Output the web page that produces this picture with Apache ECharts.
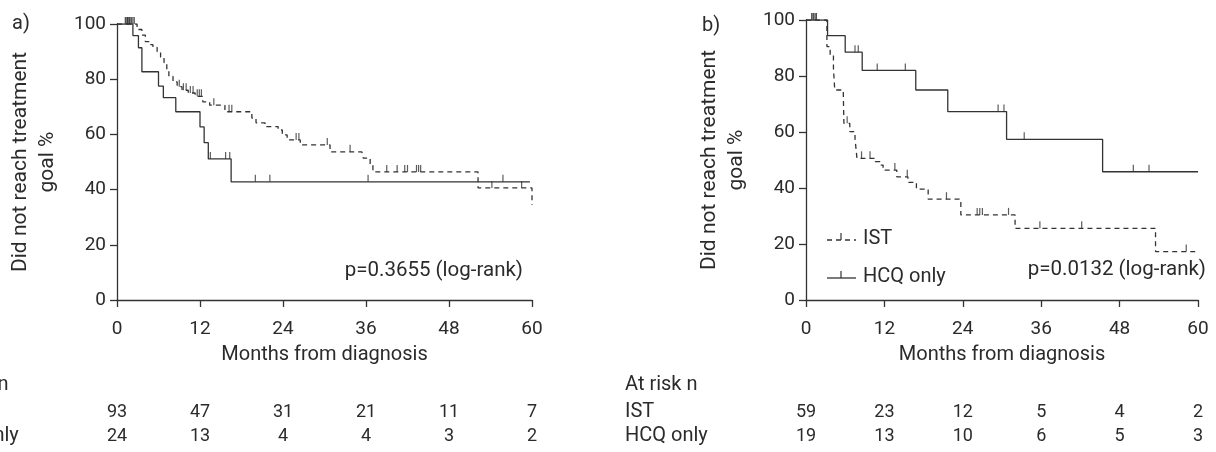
<!DOCTYPE html>
<html><head><meta charset="utf-8">
<script src="https://cdn.jsdelivr.net/npm/echarts@6/dist/echarts.min.js"></script>
<style>html,body{margin:0;padding:0;background:#fff}#c{width:1216px;height:452px}</style>
</head><body><div id="c"></div>
<script>
// ---------- data ----------
const monthTicks = [0, 12, 24, 36, 48, 60];
const pctTicks = [0, 20, 40, 60, 80, 100];
const groupNames = ['IST', 'HCQ only'];

// Panel a
const istA_t = [0, 2.9, 3.6, 4.1, 4.8, 5.2, 5.8, 6.3, 6.8, 7.2, 7.5, 8.1, 8.7, 9.4, 10.3, 11.3, 12.4, 13.4, 15.6, 19.5, 20.1, 21.4, 23.3, 23.9, 24.6, 26.5, 30.8, 35.4, 35.6, 36.6, 37.0, 37.4, 52.2, 60];
const istA_v = [100, 98, 96, 93.6, 92.5, 91.5, 90, 88, 86, 83, 81, 79, 77.3, 76, 75, 73.8, 71.8, 70.6, 68.2, 65.9, 64.2, 62.8, 61.6, 59.8, 58, 56.2, 53.7, 53.2, 51.4, 48.9, 47.2, 46.4, 40.6, 34.4];
const istA_cens = [1.3, 1.5, 1.7, 1.9, 2.1, 2.3, 2.5, 9.0, 9.6, 10.0, 10.6, 11.0, 11.6, 11.9, 12.2, 14.0, 16.2, 16.6, 25.9, 26.3, 30.4, 33.7, 39.0, 40.5, 41.6, 42.0, 43.3, 43.6, 43.9, 54.2, 58.5];
const hcqA_t = [0, 2.3, 3.1, 3.6, 6.0, 6.7, 8.5, 12.0, 12.6, 13.2, 16.5, 59.7];
const hcqA_v = [100, 95.8, 91.4, 82.7, 77.5, 73.3, 68.2, 62.7, 57, 51.1, 42.8, 42.8];
const hcqA_cens = [1.2, 1.5, 1.8, 13.5, 15.7, 16.3, 20.0, 22.1, 36.3, 55.8];
const riskA_IST = [93, 47, 31, 21, 11, 7];
const riskA_HCQ = [24, 13, 4, 4, 3, 2];
const pA = 'p=0.3655 (log-rank)';

// Panel b
const istB_t = [0, 3.2, 3.7, 4.2, 4.4, 5.7, 5.8, 6.7, 7.5, 7.8, 10.6, 11.3, 11.8, 13.9, 15.6, 16.9, 18.7, 23.7, 32.0, 53.5, 60];
const istB_v = [100, 90.5, 87.5, 82.7, 75, 74.4, 63.1, 60.1, 57.7, 50.6, 49.4, 48.2, 46.4, 44, 42, 39.6, 36, 30.4, 25.6, 17.3, 17.3];
const istB_cens = [0.9, 1.2, 1.5, 6.3, 8.5, 9.8, 13.6, 15.5, 21.5, 26.2, 26.6, 27.0, 31.0, 35.8, 42.2, 58.2];
const hcqB_t = [0, 3.3, 6.0, 8.6, 16.8, 21.7, 30.7, 45.4, 60];
const hcqB_v = [100, 94.4, 88.5, 82, 75, 67.3, 57.4, 45.8, 45.8];
const hcqB_cens = [0.9, 1.2, 1.6, 7.5, 8.0, 10.9, 15.2, 29.4, 30.3, 33.4, 50.1, 52.5];
const riskB_IST = [59, 23, 12, 5, 4, 2];
const riskB_HCQ = [19, 13, 10, 6, 5, 3];
const pB = 'p=0.0132 (log-rank)';

// ---------- helpers ----------
const FONT = 'Roboto, "Open Sans", sans-serif';
const TXT = '#2b2b2b';
const LINE = '#333';
const FS_NUM = 19;   // tick labels
const FS_WORD = 20;  // words
const FS_TAB = 18;   // risk-table numbers
function pairs(ts, vs) { return ts.map((t, i) => [t, vs[i]]); }
function valAt(ts, vs, t) { let v = vs[0]; for (let i = 0; i < ts.length; i++) if (ts[i] <= t) v = vs[i]; return v; }
function cens(ts, vs, cs) { return cs.map(c => [c, valAt(ts, vs, c)]); }

function xAxis(idx) {
  return {
    gridIndex: idx, type: 'value', min: 0, max: 60, interval: 12,
    name: 'Months from diagnosis', nameLocation: 'middle', nameGap: 45,
    nameTextStyle: { fontFamily: FONT, fontSize: FS_WORD, color: TXT },
    axisLine: { show: true, lineStyle: { color: LINE, width: 1.3 } },
    axisTick: { show: true, length: 7, lineStyle: { color: LINE, width: 1.3 } },
    axisLabel: { margin: 20, fontFamily: FONT, fontSize: FS_NUM, color: TXT },
    splitLine: { show: false }
  };
}
function yAxis(idx) {
  return {
    gridIndex: idx, type: 'value', min: 0, max: 100, interval: 20,
    name: 'Did not reach treatment\ngoal %', nameLocation: 'middle', nameRotate: 90, nameGap: 56,
    nameTextStyle: { fontFamily: FONT, fontSize: 21, color: TXT, lineHeight: 27, align: 'center' },
    axisLine: { show: true, lineStyle: { color: LINE, width: 1.3 } },
    axisTick: { show: true, length: 7, lineStyle: { color: LINE, width: 1.3 } },
    axisLabel: { margin: 11, fontFamily: FONT, fontSize: FS_NUM, color: TXT },
    splitLine: { show: false }
  };
}
function curve(idx, ts, vs, dashed) {
  return {
    type: 'line', xAxisIndex: idx, yAxisIndex: idx, step: 'end', symbol: 'none',
    data: pairs(ts, vs), silent: true, animation: false,
    lineStyle: { color: LINE, width: 1.3, type: dashed ? [5, 4] : 'solid' }
  };
}
function marks(idx, ts, vs, cs) {
  return {
    type: 'scatter', xAxisIndex: idx, yAxisIndex: idx, data: cens(ts, vs, cs),
    symbol: 'rect', symbolSize: [1.2, 7], symbolOffset: [0, -3.5], clip: false,
    itemStyle: { color: LINE }, silent: true, animation: false
  };
}
function txt(x, y, s, align, fs) {
  return { type: 'text', x: x, y: y, silent: true,
    style: { text: String(s), fill: TXT, font: (fs || FS_WORD) + 'px ' + FONT, align: align || 'left', verticalAlign: 'middle' } };
}

const chart = echarts.init(document.getElementById('c'), null, { renderer: 'canvas' });
chart.setOption({
  animation: false,
  backgroundColor: '#fff',
  grid: [
    { left: 117, right: 684, top: 24, bottom: 152, outerBoundsMode: 'none', containLabel: false },
    { left: 806, right: 18, top: 20, bottom: 152, outerBoundsMode: 'none', containLabel: false }
  ],
  xAxis: [xAxis(0), xAxis(1)],
  yAxis: [yAxis(0), yAxis(1)],
  series: [
    curve(0, istA_t, istA_v, true), curve(0, hcqA_t, hcqA_v, false),
    marks(0, istA_t, istA_v, istA_cens), marks(0, hcqA_t, hcqA_v, hcqA_cens),
    curve(1, istB_t, istB_v, true), curve(1, hcqB_t, hcqB_v, false),
    marks(1, istB_t, istB_v, istB_cens), marks(1, hcqB_t, hcqB_v, hcqB_cens)
  ]
});

// ---------- annotations, legend, risk tables ----------
const graphics = [];
graphics.push(txt(12, 24, 'a)'), txt(702, 26, 'b)'));
graphics.push(txt(523, 271, pA, 'right', 20.5), txt(1206, 270, pB, 'right', 20.5));
// legend (panel b)
graphics.push({ type: 'line', shape: { x1: 827, y1: 240, x2: 856, y2: 240 }, style: { stroke: LINE, lineWidth: 1.3, lineDash: [5, 4] } });
graphics.push({ type: 'line', shape: { x1: 841, y1: 240, x2: 841, y2: 233 }, style: { stroke: LINE, lineWidth: 1.2 } });
graphics.push({ type: 'line', shape: { x1: 827, y1: 278, x2: 856, y2: 278 }, style: { stroke: LINE, lineWidth: 1.3 } });
graphics.push({ type: 'line', shape: { x1: 841, y1: 278, x2: 841, y2: 271 }, style: { stroke: LINE, lineWidth: 1.2 } });
graphics.push(txt(863, 239, groupNames[0]), txt(863, 277, groupNames[1]));
// risk tables, numbers placed under the axis ticks
const tables = [[0, riskA_IST, riskA_HCQ], [1, riskB_IST, riskB_HCQ]];
tables.forEach(([idx, rIST, rHCQ]) => {
  const x0 = chart.convertToPixel({ xAxisIndex: idx }, 0);
  const lx = x0 - 181;
  graphics.push(txt(lx, 385, 'At risk n'), txt(lx, 412, groupNames[0]), txt(lx, 436, groupNames[1]));
  monthTicks.forEach((m, i) => {
    const px = chart.convertToPixel({ xAxisIndex: idx }, m);
    graphics.push(txt(px, 412, rIST[i], 'center', FS_TAB));
    graphics.push(txt(px, 436, rHCQ[i], 'center', FS_TAB));
  });
});
chart.setOption({ graphic: graphics });
</script>
</body></html>
